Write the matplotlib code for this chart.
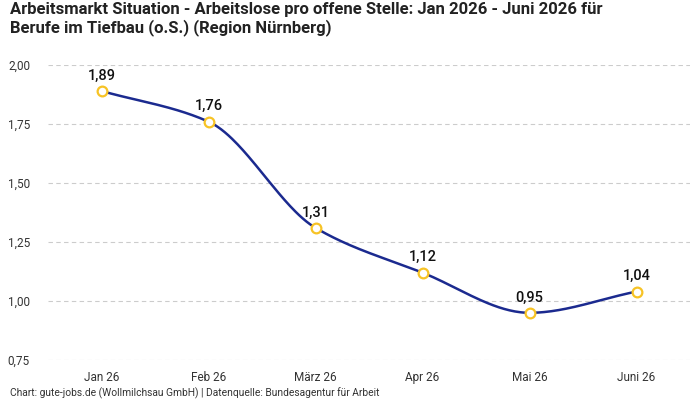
import matplotlib
matplotlib.use("Agg")
import matplotlib.pyplot as plt
import numpy as np

# Daten
monate = ["Jan 26", "Feb 26", "März 26", "Apr 26", "Mai 26", "Juni 26"]
werte = [1.89, 1.76, 1.31, 1.12, 0.95, 1.04]
y_ticks = [0.75, 1.00, 1.25, 1.50, 1.75, 2.00]

titel = ("Arbeitsmarkt Situation - Arbeitslose pro offene Stelle: Jan 2026 - Juni 2026 für\n"
         "Berufe im Tiefbau (o.S.) (Region Nürnberg)")
quelle = "Chart: gute-jobs.de (Wollmilchsau GmbH) | Datenquelle: Bundesagentur für Arbeit"


def monotone_kurve(x, y, n=60):
    """Monotone kubische Interpolation (Fritsch-Carlson) für die Linie"""
    x = np.asarray(x, float)
    y = np.asarray(y, float)
    h = np.diff(x)
    d = np.diff(y) / h
    m = np.zeros_like(y)
    m[0], m[-1] = d[0], d[-1]
    for i in range(1, len(y) - 1):
        if d[i - 1] * d[i] <= 0:
            m[i] = 0
        else:
            w1 = 2 * h[i] + h[i - 1]
            w2 = h[i] + 2 * h[i - 1]
            m[i] = (w1 + w2) / (w1 / d[i - 1] + w2 / d[i])
    xs, ys = [], []
    for i in range(len(h)):
        t = np.linspace(0, 1, n)
        h00 = 2 * t**3 - 3 * t**2 + 1
        h10 = t**3 - 2 * t**2 + t
        h01 = -2 * t**3 + 3 * t**2
        h11 = t**3 - t**2
        xs.append(x[i] + t * h[i])
        ys.append(h00 * y[i] + h10 * h[i] * m[i] + h01 * y[i + 1] + h11 * h[i] * m[i + 1])
    return np.concatenate(xs), np.concatenate(ys)


plt.rcParams['font.family'] = ['Roboto', 'DejaVu Sans']

fig = plt.figure(figsize=(7, 4), dpi=100)
ax = fig.add_axes([48 / 700, 0.1, 642 / 700, 0.7375])

x = np.arange(len(monate))
kx, ky = monotone_kurve(x, werte)
ax.plot(kx, ky, color="#1b2a8f", linewidth=1.8, zorder=2)
ax.plot(x, werte, linestyle="none", marker="o", markersize=7,
        markerfacecolor="white", markeredgecolor="#f7c325", markeredgewidth=1.6, zorder=3)

for xi, v in zip(x, werte):
    ax.annotate(f"{v:.2f}".replace(".", ","), (xi, v), xytext=(0, 6),
                textcoords="offset points", ha="center", va="bottom",
                fontsize=10.5, fontweight="medium", color="#111111")

ax.set_xlim(-0.5, len(monate) - 0.5)
ax.set_ylim(0.75, 2.0)
ax.set_xticks(x)
ax.set_xticklabels(monate, fontsize=8.5, color="#333333")
ax.set_yticks(y_ticks)
ax.set_yticklabels([f"{t:.2f}".replace(".", ",") for t in y_ticks], fontsize=8.5, color="#333333")
ax.tick_params(axis="x", length=0, pad=8)
ax.tick_params(axis="y", length=0, pad=13)
for s in ax.spines.values():
    s.set_visible(False)
ax.grid(axis="y", color="#cccccc", linestyle=(0, (4, 3)), linewidth=0.8)
ax.set_axisbelow(True)

fig.text(10 / 700, 1 - 2 / 400, titel, ha="left", va="top", fontsize=12, fontweight="bold",
         color="#222222", linespacing=1.15)
fig.text(10 / 700, 1 - 393 / 400, quelle, ha="left", va="center", fontsize=7.4, color="#333333")

fig.savefig("out.png", dpi=100)
